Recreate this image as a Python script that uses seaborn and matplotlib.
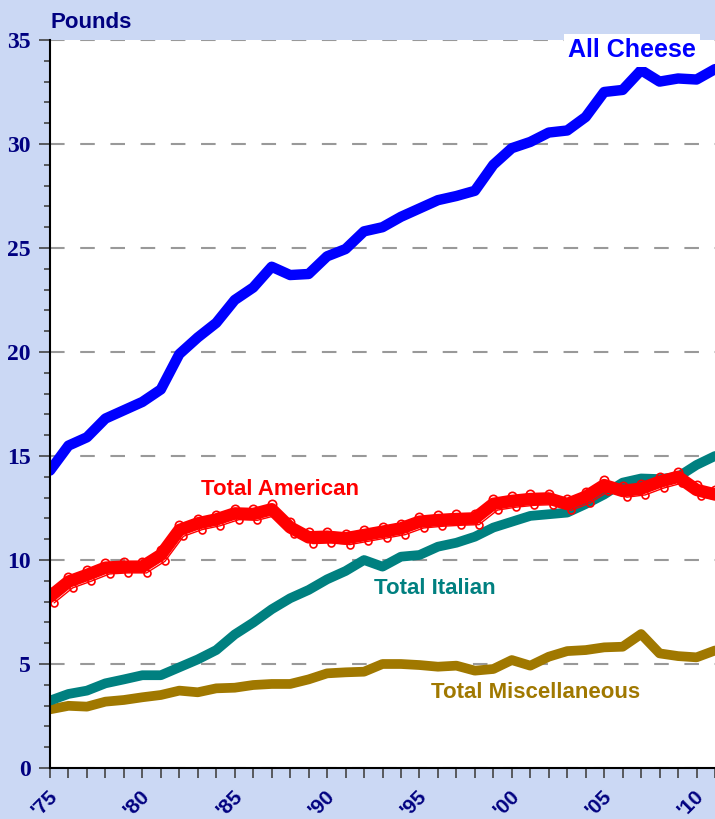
import matplotlib
matplotlib.use("Agg")
import matplotlib.pyplot as plt
import matplotlib.transforms as mtransforms
from matplotlib.ticker import MultipleLocator
import seaborn as sns
import numpy as np
import pandas as pd

years = list(range(1975, 2012))

all_cheese = [14.3, 15.5, 15.9, 16.8, 17.2, 17.6, 18.2, 19.9, 20.7, 21.4,
              22.5, 23.1, 24.1, 23.7, 23.75, 24.6, 24.95, 25.8, 26.0, 26.5,
              26.9, 27.3, 27.5, 27.75, 29.0, 29.8, 30.1, 30.55, 30.65, 31.3,
              32.5, 32.6, 33.55, 33.0, 33.15, 33.1, 33.6]

total_american = [8.24, 8.96, 9.28, 9.63, 9.68, 9.68, 10.24, 11.44, 11.76, 11.95,
                  12.24, 12.21, 12.44, 11.57, 11.09, 11.12, 11.04, 11.2, 11.36, 11.52,
                  11.84, 11.92, 11.97, 12.0, 12.7, 12.84, 12.93, 12.96, 12.69, 13.04,
                  13.6, 13.32, 13.43, 13.76, 14.0, 13.37, 13.15]

total_italian = [3.24, 3.56, 3.72, 4.07, 4.26, 4.46, 4.46, 4.84, 5.22, 5.67,
                 6.42, 6.99, 7.63, 8.16, 8.56, 9.07, 9.47, 10.0, 9.68, 10.16,
                 10.24, 10.64, 10.83, 11.12, 11.56, 11.84, 12.12, 12.2, 12.28, 12.69,
                 13.15, 13.72, 13.92, 13.89, 14.0, 14.57, 15.0]

total_misc = [2.82, 2.99, 2.95, 3.19, 3.27, 3.4, 3.51, 3.72, 3.64, 3.83,
              3.86, 3.99, 4.04, 4.04, 4.26, 4.55, 4.6, 4.63, 5.0, 5.0,
              4.95, 4.87, 4.92, 4.68, 4.76, 5.19, 4.92, 5.35, 5.62, 5.67,
              5.8, 5.83, 6.44, 5.51, 5.38, 5.32, 5.65]

xtick_years = [1975, 1980, 1985, 1990, 1995, 2000, 2005, 2010]
xtick_labels = ["'75", "'80", "'85", "'90", "'95", "'00", "'05", "'10"]

df = pd.DataFrame({
    "year": years,
    "all": all_cheese,
    "american": total_american,
    "italian": total_italian,
    "misc": total_misc,
})

navy = "#000080"
blue = "#0000ff"
red = "#ff0000"
teal = "#008080"
brown = "#a07800"

sns.set_style("white")
plt.rcParams["font.family"] = ["Liberation Sans", "DejaVu Sans"]

fig = plt.figure(figsize=(7.15, 8.19), dpi=100)
fig.patch.set_facecolor("#cbd8f4")
ax = fig.add_axes([50 / 715, 51 / 819, 665 / 715, 728 / 819])
ax.set_facecolor("white")

# lines
sns.lineplot(data=df, x="year", y="misc", color=brown, lw=7, ax=ax,
             solid_joinstyle="round", solid_capstyle="round", zorder=3)
sns.lineplot(data=df, x="year", y="italian", color=teal, lw=7, ax=ax,
             solid_joinstyle="round", solid_capstyle="round", zorder=4)
sns.lineplot(data=df, x="year", y="american", color=red, lw=9, ax=ax,
             solid_joinstyle="round", solid_capstyle="round", zorder=5)
# thin loops with open circles around the American line
up = ax.transData + mtransforms.ScaledTranslation(0, 3.5 / 72, fig.dpi_scale_trans)
down = ax.transData + mtransforms.ScaledTranslation(3 / 72, -4.5 / 72, fig.dpi_scale_trans)
ax.plot(years, total_american, color=red, lw=1, marker="o", ms=6,
        mfc="none", mec=red, mew=1.2, transform=up, zorder=6)
ax.plot(years, total_american, color=red, lw=1, marker="o", ms=5,
        mfc="none", mec=red, mew=1.2, transform=down, zorder=6)
sns.lineplot(data=df, x="year", y="all", color=blue, lw=7.5, ax=ax,
             solid_joinstyle="round", solid_capstyle="round", zorder=7)

ax.set_xlim(1975, 2010.75)
ax.set_ylim(0, 35)

# grid
ax.yaxis.grid(True, which="major", color="#999999", lw=1.5,
              linestyle=(0, (7, 7.5)), zorder=1)
ax.xaxis.grid(False)
ax.set_axisbelow(True)

for s in ["top", "right"]:
    ax.spines[s].set_visible(False)
for s in ["left", "bottom"]:
    ax.spines[s].set_color("black")
    ax.spines[s].set_linewidth(1.5)
    ax.spines[s].set_zorder(8)

ax.yaxis.set_major_locator(MultipleLocator(5))
ax.yaxis.set_minor_locator(MultipleLocator(1))
ax.tick_params(axis="y", which="major", direction="out", length=8, width=1.2,
               color="#444444", left=True, pad=6)
ax.tick_params(axis="y", which="minor", direction="out", length=4.5, width=1.2,
               color="#444444", left=True)
ax.tick_params(axis="x", which="major", direction="out", length=7, width=1.2,
               color="#444444", bottom=True)

ax.set_yticks(range(0, 36, 5))
ax.set_yticklabels([str(v) for v in range(0, 36, 5)],
                   fontfamily="Liberation Serif", fontweight="bold",
                   fontsize=17, color=navy)

ax.set_xticks(years)
ax.set_xticklabels(["" for _ in years])
for yr, lab in zip(xtick_years, xtick_labels):
    ax.annotate(lab, xy=(yr, 0), xycoords=("data", "axes fraction"),
                xytext=(-1.5, -13.5), textcoords="offset points",
                rotation=45, rotation_mode="anchor", ha="right", va="top",
                fontsize=15, fontweight="bold", color=navy,
                annotation_clip=False)

ax.set_xlabel("")
ax.set_ylabel("")

# series labels
ax.text(2003.06, 34.5, "All Cheese", color=blue, fontsize=18,
        fontweight="bold", ha="left", va="center", zorder=10,
        bbox=dict(facecolor="white", edgecolor="none", pad=3))
ax.text(1983.17, 13.41, "Total American", color=red, fontsize=16,
        fontweight="bold", ha="left", va="center", zorder=10)
ax.text(1992.53, 8.65, "Total Italian", color=teal, fontsize=16,
        fontweight="bold", ha="left", va="center", zorder=10)
ax.text(1995.65, 3.65, "Total Miscellaneous", color=brown, fontsize=16,
        fontweight="bold", ha="left", va="center", zorder=10)

fig.text(51 / 715, 1 - 22 / 819, "Pounds", color=navy, fontsize=16,
         fontweight="bold", ha="left", va="center")

fig.savefig("out.png", dpi=100, facecolor=fig.get_facecolor())
